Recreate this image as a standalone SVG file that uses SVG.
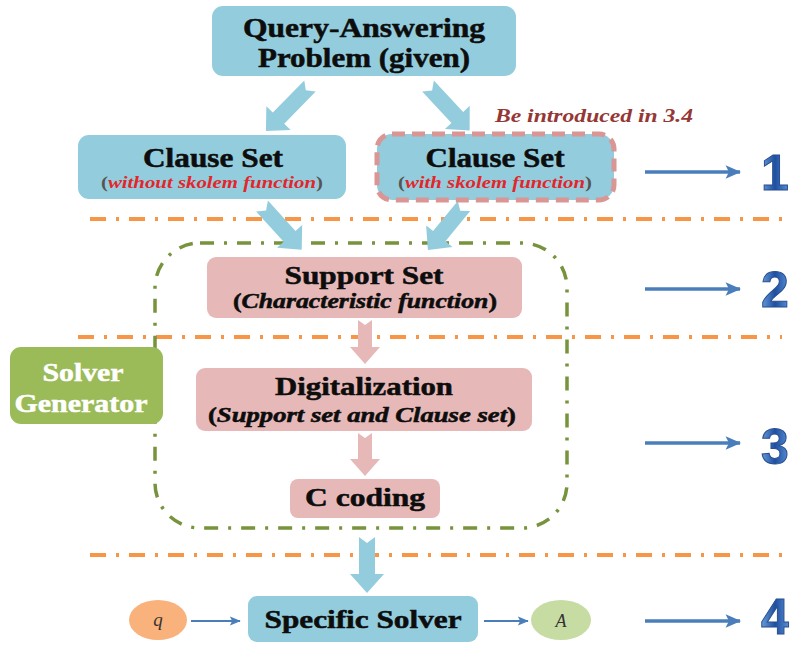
<svg xmlns="http://www.w3.org/2000/svg" width="795" height="645" viewBox="0 0 795 645">
<defs>
<style>
.bx{fill:#93cddd}
.pk{fill:#e6b9b8}
.t{font-family:"Liberation Serif","Times New Roman",serif;font-weight:bold;fill:#0d0d0d;stroke:#0d0d0d;stroke-width:0.5;text-anchor:middle}
.tw{font-family:"Liberation Serif","Times New Roman",serif;font-weight:bold;fill:#ffffff;stroke:#ffffff;stroke-width:0.5;text-anchor:middle}
.ti{font-family:"Liberation Serif","Times New Roman",serif;font-weight:bold;font-style:italic;text-anchor:middle}
.red{fill:#e3262b}
.par{fill:#555;font-style:normal}
.sep{stroke:#f79646;stroke-width:4;stroke-dasharray:16 10 3 10;fill:none}
.fa{fill:#93cddd}
.fp{fill:#e6b9b8}
.ln{stroke:#4a7ebb;stroke-width:3.5;fill:none;marker-end:url(#ah)}
.ls{stroke:#4a7ebb;stroke-width:2.2;fill:none;marker-end:url(#ahs)}
.num{font-family:"Liberation Sans",Arial,sans-serif;font-weight:bold;font-size:50px;fill:url(#ng);stroke:#2a4f8f;stroke-width:1;text-anchor:middle}
</style>
<linearGradient id="ng" x1="0" y1="0" x2="1" y2="0">
<stop offset="0" stop-color="#6a9fdc"/>
<stop offset="0.5" stop-color="#1e4fa0"/>
<stop offset="1" stop-color="#5b8fd6"/>
</linearGradient>
<marker id="ah" viewBox="0 0 14 12" refX="13" refY="6" markerWidth="4.5" markerHeight="3.8" markerUnits="strokeWidth" orient="auto">
<path d="M0,0 L14,6 L0,12 L3,6 Z" fill="#4a7ebb"/>
</marker>
<marker id="ahs" viewBox="0 0 14 12" refX="13" refY="6" markerWidth="5" markerHeight="4.3" markerUnits="strokeWidth" orient="auto">
<path d="M0,0 L14,6 L0,12 L3,6 Z" fill="#4a7ebb"/>
</marker>
</defs>

<g id="separators">
<line class="sep" x1="90" y1="219" x2="782" y2="219"/>
<line class="sep" x1="78" y1="337" x2="782" y2="337"/>
<line class="sep" x1="90" y1="555" x2="782" y2="555"/>
</g>

<g id="solver-generator-frame">
<rect x="155" y="243" width="412" height="285" rx="45" fill="none" stroke="#77933c" stroke-width="3.5" stroke-dasharray="14 10 3 10"/>
</g>

<g id="connectors">
<path class="fa" transform="translate(310,86) rotate(134.4)" d="M0,-8 L45,-8 L45,-17 L63,0 L45,17 L45,8 L0,8 L6,0 Z"/>
<path class="fa" transform="translate(428,86) rotate(47)" d="M0,-8 L43,-8 L43,-17 L61,0 L43,17 L43,8 L0,8 L6,0 Z"/>
<path class="fa" transform="translate(262,206) rotate(47.7)" d="M0,-8 L41,-8 L41,-17 L59,0 L41,17 L41,8 L0,8 L6,0 Z"/>
<path class="fa" transform="translate(464,206) rotate(129.3)" d="M0,-8 L39,-8 L39,-17 L57,0 L39,17 L39,8 L0,8 L6,0 Z"/>
<path class="fp" transform="translate(365,320) rotate(90)" d="M0,-7 L27,-7 L27,-15 L44,0 L27,15 L27,7 L0,7 L5,0 Z"/>
<path class="fp" transform="translate(365,433) rotate(90)" d="M0,-7 L26,-7 L26,-15 L43,0 L26,15 L26,7 L0,7 L5,0 Z"/>
<path class="fa" transform="translate(367,537) rotate(90)" d="M0,-8 L37,-8 L37,-17 L56,0 L37,17 L37,8 L0,8 L6,0 Z"/>
<line class="ls" x1="191" y1="621" x2="240" y2="621"/>
<line class="ls" x1="484" y1="621" x2="528" y2="621"/>
<line class="ln" x1="645" y1="172" x2="740" y2="172"/>
<line class="ln" x1="645" y1="289" x2="740" y2="289"/>
<line class="ln" x1="645" y1="443" x2="740" y2="443"/>
<line class="ln" x1="645" y1="621" x2="740" y2="621"/>
</g>

<g id="query-problem">
<rect class="bx" x="212" y="6" width="304" height="70" rx="11"/>
<text class="t" x="364" y="37" font-size="27" textLength="242" lengthAdjust="spacingAndGlyphs">Query-Answering</text>
<text class="t" x="364" y="67" font-size="27" textLength="212" lengthAdjust="spacingAndGlyphs">Problem (given)</text>
</g>

<g id="clause-set-without">
<rect class="bx" x="78" y="135" width="268" height="64" rx="11"/>
<text class="t" x="213" y="167" font-size="27" textLength="140" lengthAdjust="spacingAndGlyphs">Clause Set</text>
<text class="ti" x="212" y="188" font-size="16.5" textLength="222" lengthAdjust="spacingAndGlyphs"><tspan class="par">(</tspan><tspan class="red">without skolem function</tspan><tspan class="par">)</tspan></text>
</g>

<g id="clause-set-with">
<rect class="bx" x="377" y="134" width="237" height="66" rx="15" stroke="#d99694" stroke-width="5" stroke-dasharray="13 7"/>
<text class="t" x="495" y="167" font-size="27" textLength="139" lengthAdjust="spacingAndGlyphs">Clause Set</text>
<text class="ti" x="495" y="188" font-size="16.5" textLength="194" lengthAdjust="spacingAndGlyphs"><tspan class="par">(</tspan><tspan class="red">with skolem function</tspan><tspan class="par">)</tspan></text>
</g>

<g id="note">
<text class="ti" x="594" y="122" font-size="18" fill="#953735" textLength="198" lengthAdjust="spacingAndGlyphs">Be introduced in 3.4</text>
</g>

<g id="support-set">
<rect class="pk" x="207" y="257" width="315" height="61" rx="9"/>
<text class="t" x="364" y="284" font-size="25" textLength="159" lengthAdjust="spacingAndGlyphs">Support Set</text>
<text class="t" x="365" y="308" font-size="20" stroke-width="0.3" textLength="264" lengthAdjust="spacingAndGlyphs">(<tspan font-style="italic">Characteristic function</tspan>)</text>
</g>

<g id="digitalization">
<rect class="pk" x="196" y="368" width="336" height="63" rx="9"/>
<text class="t" x="364" y="395" font-size="25" textLength="178" lengthAdjust="spacingAndGlyphs">Digitalization</text>
<text class="t" x="362" y="422" font-size="20" stroke-width="0.3" textLength="308" lengthAdjust="spacingAndGlyphs">(<tspan font-style="italic">Support set and Clause set</tspan>)</text>
</g>

<g id="c-coding">
<rect class="pk" x="290" y="479" width="150" height="39" rx="8"/>
<text class="t" x="365" y="506" font-size="25" textLength="120" lengthAdjust="spacingAndGlyphs">C coding</text>
</g>

<g id="solver-generator">
<rect x="10" y="347" width="153" height="77" rx="11" fill="#9bbb59"/>
<text class="tw" x="83" y="381" font-size="26" textLength="81" lengthAdjust="spacingAndGlyphs">Solver</text>
<text class="tw" x="81" y="412" font-size="26" textLength="133" lengthAdjust="spacingAndGlyphs">Generator</text>
</g>

<g id="specific-solver">
<rect class="bx" x="248" y="596" width="230" height="46" rx="9"/>
<text class="t" x="363" y="628" font-size="25" textLength="197" lengthAdjust="spacingAndGlyphs">Specific Solver</text>
</g>

<g id="q">
<ellipse cx="158" cy="620" rx="29" ry="20" fill="#f9b27c"/>
<text x="158" y="626" font-family="Liberation Serif, serif" font-style="italic" font-size="19" text-anchor="middle" fill="#333">q</text>
</g>

<g id="A">
<ellipse cx="561" cy="620" rx="30" ry="20" fill="#c7dca3"/>
<text x="561" y="627" font-family="Liberation Serif, serif" font-style="italic" font-size="18" text-anchor="middle" fill="#333">A</text>
</g>

<g id="levels">
<text class="num" x="775" y="190">1</text>
<text class="num" x="775" y="307">2</text>
<text class="num" x="775" y="464">3</text>
<text class="num" x="775" y="634" font-size="46">4</text>
</g>
</svg>
